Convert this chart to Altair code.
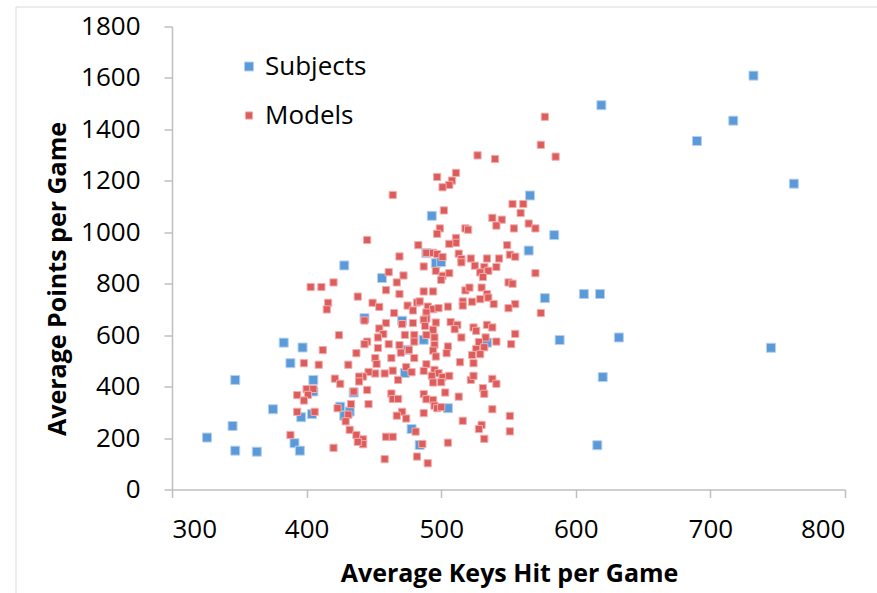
import altair as alt
import pandas as pd

# ---------------- data ----------------
series_names = ["Subjects", "Models"]

subj_x = [732, 619, 717, 690, 762, 584, 606, 618, 588, 632,
          745, 620, 616, 577, 566, 493, 565, 496, 500, 489,
          487, 471, 475, 473, 505, 478, 484, 534, 428, 456,
          443, 383, 397, 388, 347, 405, 405, 435, 375, 425,
          432, 428, 396, 404, 345, 326, 347, 363, 391, 395]
subj_y = [1609, 1494, 1434, 1355, 1189, 989, 760, 760, 581, 591,
          551, 437, 172, 744, 1143, 1064, 929, 880, 884, 919,
          582, 656, 543, 453, 316, 235, 173, 571, 871, 822,
          666, 571, 552, 491, 426, 426, 381, 377, 312, 322,
          303, 287, 281, 293, 247, 202, 151, 147, 180, 151]

model_x = [577, 574, 585, 527, 540, 497, 511, 508, 506, 501,
           502, 553, 561, 559, 538, 545, 541, 554, 565, 570,
           499, 497, 518, 520, 511, 511, 506, 549, 483, 489,
           494, 497, 501, 513, 515, 522, 534, 543, 551, 555,
           464, 445, 469, 461, 472, 403, 411, 420, 438, 416,
           415, 449, 454, 459, 467, 469, 465, 475, 479, 482,
           443, 459, 471, 479, 454, 457, 453, 473, 480, 480,
           424, 445, 443, 461, 453, 469, 470, 476, 480, 412,
           437, 451, 452, 463, 398, 409, 431, 464, 474, 478,
           468, 458, 451, 446, 442, 439, 439, 421, 425, 445,
           435, 400, 405, 401, 393, 398, 463, 464, 468, 433,
           446, 423, 431, 429, 393, 406, 471, 467, 474, 432,
           437, 442, 442, 438, 459, 464, 481, 388, 420, 458, 482,
           487, 496, 501, 500, 506, 515, 525, 532, 535, 529,
           531, 541, 487, 494, 518, 521, 530, 534, 535, 529,
           516, 523, 516, 539, 484, 490, 494, 498, 505, 489,
           489, 487, 496, 507, 512, 510, 488, 494, 489, 495,
           515, 524, 526, 534, 538, 533, 528, 541, 495, 505,
           504, 494, 496, 526, 532, 523, 529, 524, 514, 489,
           487, 495, 498, 493, 501, 506, 500, 494, 522, 524,
           538, 541, 531, 532, 503, 513, 487, 489, 494, 495,
           497, 500, 538, 487, 516, 530, 528, 532, 505, 486, 490,
           570, 550, 553, 555, 550, 574, 555, 552, 551, 551]
model_y = [1449, 1340, 1294, 1299, 1285, 1215, 1231, 1201, 1184, 1175,
           1085, 1110, 1110, 1075, 1056, 1049, 1026, 1015, 1034, 1015,
           1015, 994, 1015, 1010, 978, 959, 955, 950, 950, 920,
           920, 915, 904, 917, 896, 898, 898, 898, 913, 905,
           1145, 970, 906, 845, 832, 787, 787, 805, 750, 726,
           700, 726, 710, 775, 805, 760, 686, 715, 696, 727,
           657, 647, 643, 647, 626, 604, 591, 601, 601, 575,
           600, 575, 565, 565, 550, 561, 532, 543, 511, 542,
           530, 511, 488, 511, 491, 485, 485, 462, 476, 456,
           426, 451, 451, 457, 439, 439, 420, 431, 411, 387,
           381, 390, 391, 368, 367, 346, 373, 352, 352, 332,
           332, 316, 291, 265, 302, 302, 302, 287, 276, 232,
           212, 195, 176, 185, 205, 205, 225, 212, 162, 118, 128,
           867, 850, 831, 815, 841, 883, 870, 865, 850, 844,
           826, 865, 770, 770, 774, 785, 785, 760, 746, 740,
           731, 730, 715, 721, 731, 711, 701, 705, 711, 688,
           664, 660, 649, 651, 640, 623, 636, 621, 601, 591,
           591, 630, 617, 640, 630, 591, 573, 575, 562, 556,
           530, 540, 517, 546, 553, 523, 526, 491, 495, 487,
           461, 465, 452, 442, 437, 442, 417, 416, 426, 442,
           430, 411, 394, 372, 377, 361, 371, 351, 348, 326,
           316, 320, 312, 297, 267, 251, 235, 197, 182, 177, 102,
           841, 805, 800, 721, 705, 686, 605, 565, 286, 226]

x_ticks = [300, 400, 500, 600, 700, 800]
y_ticks = [0, 200, 400, 600, 800, 1000, 1200, 1400, 1600, 1800]

df = pd.concat([
    pd.DataFrame({"keys": subj_x, "points": subj_y, "series": "Subjects"}),
    pd.DataFrame({"keys": model_x, "points": model_y, "series": "Models"}),
], ignore_index=True)

# ---------------- styling ----------------
FONT = "Open Sans"
fill_colors = ["#5B9AD9", "#DD5C5C"]
stroke_colors = ["#B5D0EE", "#F2AEAE"]
sizes = [81, 52]
axis_grey = "#BFBFBF"

legend = alt.Legend(
    title=None, orient="none", legendX=64, legendY=27,
    labelFont=FONT, labelFontSize=26, labelColor="#000000",
    labelOffset=3, rowPadding=23, padding=0, symbolStrokeWidth=1,
)

points = alt.Chart(df).mark_point(
    shape="square", filled=True, opacity=1, strokeWidth=1
).encode(
    x=alt.X("keys:Q",
            scale=alt.Scale(domain=[300, 800], nice=False, zero=False),
            axis=alt.Axis(values=x_ticks, format="d", title="Average Keys Hit per Game",
                          labelPadding=19, titleX=337, titleY=84,
                          titleAlign="center", titleBaseline="middle")),
    y=alt.Y("points:Q",
            scale=alt.Scale(domain=[0, 1800], nice=False),
            axis=alt.Axis(values=y_ticks, format="d", title="Average Points per Game",
                          labelPadding=24, titleX=-115, titleY=252,
                          titleAngle=-90, titleAlign="center",
                          titleBaseline="middle")),
    color=alt.Color("series:N", scale=alt.Scale(domain=series_names, range=fill_colors),
                    legend=legend),
    stroke=alt.Stroke("series:N", scale=alt.Scale(domain=series_names, range=stroke_colors),
                      legend=legend),
    size=alt.Size("series:N", scale=alt.Scale(domain=series_names, range=sizes),
                  legend=legend),
)

frame = alt.Chart(pd.DataFrame({"f": [0]})).mark_rect(
    fillOpacity=0, stroke="#D9D9D9", strokeWidth=1
).encode(
    x=alt.value(-156), x2=alt.value(712),
    y=alt.value(-19.5), y2=alt.value(575),
)

chart = alt.layer(frame, points).properties(
    width=673, height=463,
    autosize=alt.AutoSizeParams(type="none"),
    padding={"left": 172, "top": 26.5, "right": 32, "bottom": 103.5},
    background="white",
).configure_view(
    stroke=None
).configure_axis(
    grid=False,
    domainColor=axis_grey, domainWidth=1.5,
    tickColor=axis_grey, tickWidth=1.5, tickSize=8,
    labelFont=FONT, labelFontSize=26, labelColor="#000000",
    titleFont=FONT, titleFontSize=25, titleFontWeight="bold", titleColor="#000000",
)

chart.save("out.html", embed_options={"renderer": "svg", "actions": False})
